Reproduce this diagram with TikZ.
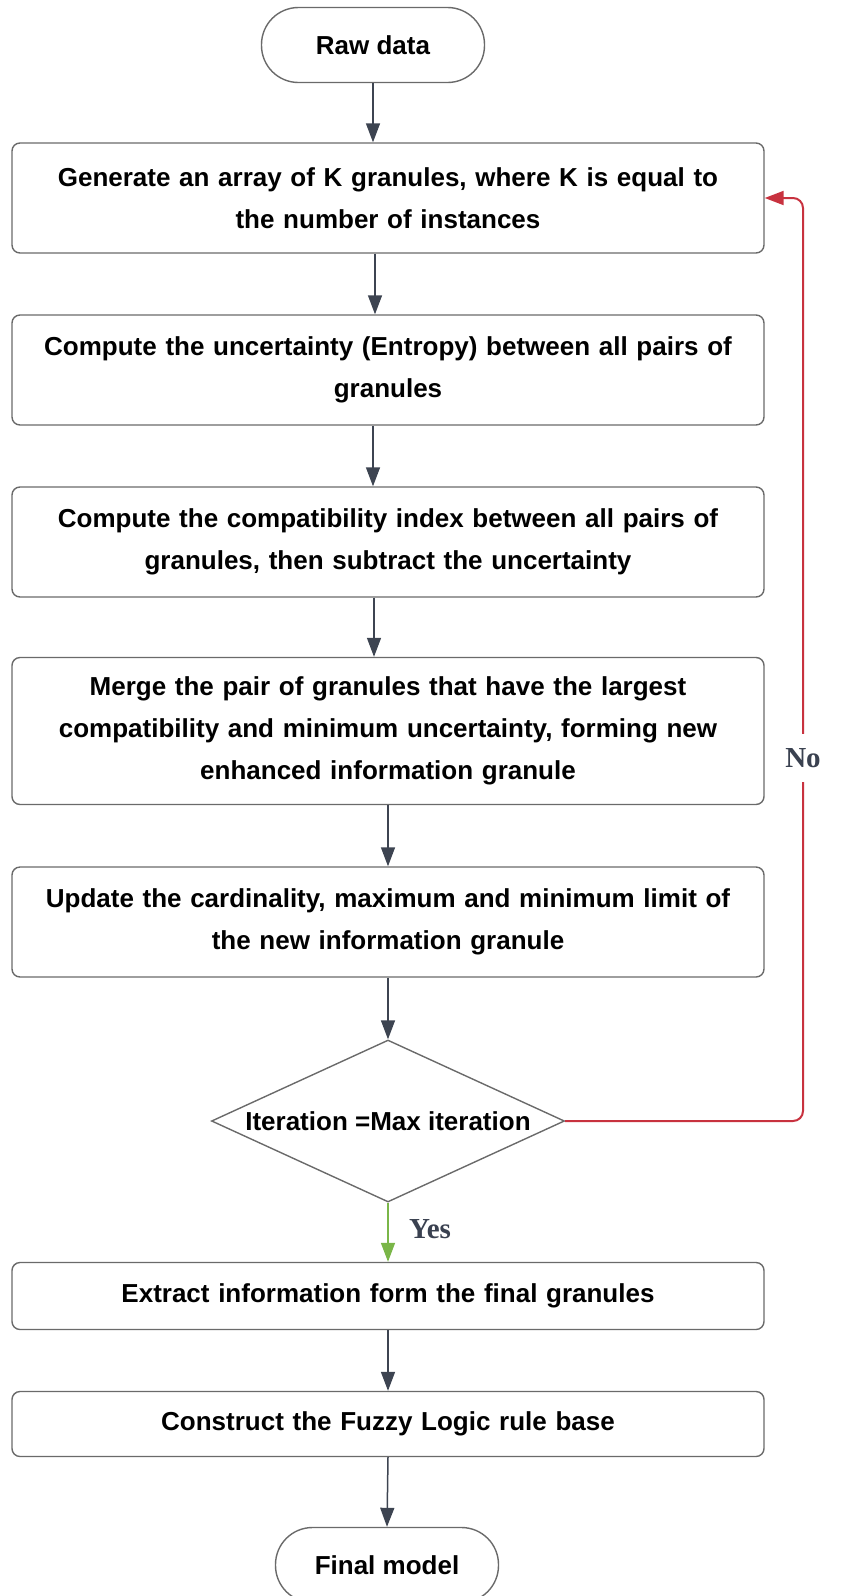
\documentclass[tikz,border=0pt]{standalone}
\usepackage{fontspec}
\setmainfont{Liberation Sans}
\newfontfamily\yesnofont{Liberation Serif}
\usetikzlibrary{shapes.geometric,arrows.meta}
\definecolor{flowline}{HTML}{3D4451}
\definecolor{boxline}{HTML}{6A6A6A}
\definecolor{noline}{HTML}{C8323F}
\definecolor{yesline}{HTML}{7AB648}
\definecolor{yesnotext}{HTML}{3A4150}

\begin{document}
\begin{tikzpicture}[x=1pt, y=-1pt,
		process/.style={rectangle, draw=boxline, line width=1.4pt, rounded corners=8pt, minimum width=752pt, text width=730pt, align=center, inner sep=0pt, font=\fontsize{26}{42}\selectfont\bfseries},
		terminal/.style={rectangle, draw=boxline, line width=1.4pt, rounded corners=37pt, minimum width=223pt, minimum height=75pt, font=\fontsize{26}{31}\selectfont\bfseries},
		decision/.style={diamond, draw=boxline, line width=1.4pt, aspect=2.18, inner sep=0pt, minimum width=353pt, minimum height=162pt, font=\fontsize{26}{31}\selectfont\bfseries},
		flow/.style={color=flowline, line width=1.5pt, -{Triangle[width=14pt,length=19pt]}},
		answer/.style={text=yesnotext, font=\fontsize{29}{32}\selectfont\yesnofont\bfseries}]
		\useasboundingbox (0,0) rectangle (841,1596);
		\node at (373,45) [terminal] (raw) {Raw data};
		\node at (388,198) [process, minimum height=110pt] (gen) {Generate an array of K granules, where K is equal to\\the number of instances};
		\node at (388,370) [process, minimum height=110pt] (entropy) {Compute the uncertainty (Entropy) between all pairs of\\granules};
		\node at (388,542) [process, minimum height=110pt] (compat) {Compute the compatibility index between all pairs of\\granules, then subtract the uncertainty};
		\node at (388,731) [process, minimum height=147pt] (merge) {Merge the pair of granules that have the largest\\compatibility and minimum uncertainty, forming new\\enhanced information granule};
		\node at (388,922) [process, minimum height=110pt] (update) {Update the cardinality, maximum and minimum limit of\\the new information granule};
		\node at (388,1121) [decision] (check) {Iteration =Max iteration};
		\node at (388,1296) [process, minimum height=67pt] (extract) {Extract information form the final granules};
		\node at (388,1424) [process, minimum height=65pt] (rules) {Construct the Fuzzy Logic rule base};
		\node at (387,1565) [terminal] (final) {Final model};
		% main flow
		\draw[flow] (raw.south) -- (raw.south |- gen.north);
		\draw[flow] ([xshift=-13pt]gen.south) -- ([xshift=-13pt]entropy.north);
		\draw[flow] ([xshift=-15pt]entropy.south) -- ([xshift=-15pt]compat.north);
		\draw[flow] ([xshift=-14pt]compat.south) -- ([xshift=-14pt]merge.north);
		\draw[flow] (merge.south) -- (update.north);
		\draw[flow] (update.south) -- (check.north);
		\draw[flow, color=yesline] (check.south) -- (extract.north);
		\draw[flow] (extract.south) -- (rules.north);
		\draw[flow] (rules.south) -- (final.north);
		% loop back
		\coordinate (loop) at (803,198);
		\draw[flow, color=noline, line width=2pt, rounded corners=10pt] (check.east) -| (loop) -- (gen.east);
		\node at (803,758) [answer, fill=white, inner xsep=3pt, inner ysep=14pt] (no) {No};
		\node at (430,1229) [answer] (yes) {Yes};
\end{tikzpicture}
\end{document}
